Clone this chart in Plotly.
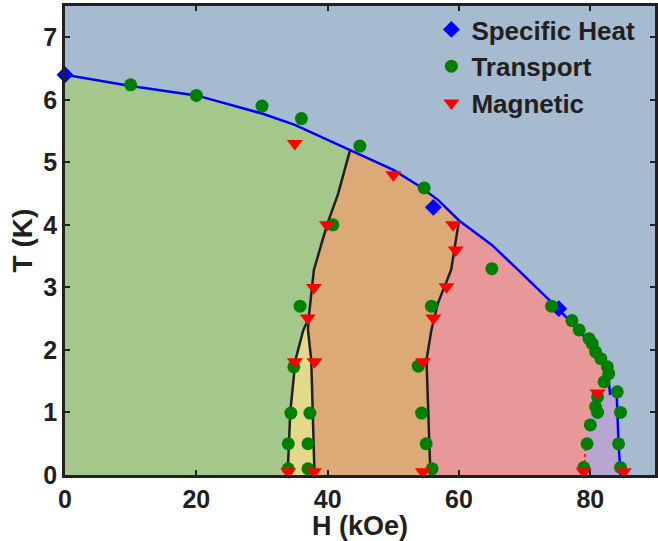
import plotly.graph_objects as go

# ---------------- data ----------------
# Upper critical field line (blue)
hc2_H = [0, 10, 20, 30, 35, 40, 43.4, 50, 53.8, 56.8, 60.0, 65, 69, 75.1, 77, 79, 80.8, 82.3, 82.8, 83.0, 84.0, 84.3, 84.6]
hc2_T = [6.4, 6.22, 6.07, 5.78, 5.6, 5.36, 5.19, 4.88, 4.63, 4.4, 4.07, 3.68, 3.28, 2.66, 2.45, 2.22, 1.97, 1.7, 1.5, 1.3, 1.35, 0.5, 0.0]

# Left boundary (green/orange), upper part
lb_H = [43.4, 41.6, 39.9, 37.9, 37.1]
lb_T = [5.19, 4.5, 4.0, 3.28, 2.5]
# Yellow pocket: left and right branches
yl_H = [37.1, 36.3, 35.1, 34.3, 33.9]
yl_T = [2.5, 2.32, 1.84, 1.0, 0.0]
yr_H = [37.1, 37.0, 37.5, 37.7, 38.0]
yr_T = [2.5, 2.32, 1.84, 1.0, 0.0]
# Middle boundary (orange/pink)
mb_H = [60.0, 58.8, 56.8, 55.8, 55.05, 55.3, 55.65]
mb_T = [4.07, 3.28, 2.75, 2.32, 1.84, 1.0, 0.0]
# Purple pocket left edge
pl_H = [79.0, 79.3, 79.9, 80.5, 81.5, 83.0]
pl_T = [0.0, 0.5, 0.9, 1.2, 1.35, 1.3]

# Measured points
heat_H = [0, 56.1, 75.2]
heat_T = [6.4, 4.28, 2.66]

trans_H = [10.0, 20.0, 30.0, 36.0, 44.9, 54.7, 40.8, 65.0, 35.8, 34.85, 34.4, 34.0, 34.0,
           37.3, 37.0, 37.0, 55.8, 53.8, 54.3, 55.0, 55.9, 74.1, 77.2, 78.3, 79.8, 80.3,
           80.8, 81.6, 82.6, 82.8, 82.1, 84.1, 81.1, 80.8, 81.1, 84.6, 80.0, 79.5, 84.3, 79.0, 84.6]
trans_T = [6.24, 6.07, 5.9, 5.7, 5.26, 4.59, 4.0, 3.3, 2.7, 1.73, 0.99, 0.5, 0.1,
           0.99, 0.5, 0.1, 2.7, 1.74, 0.99, 0.5, 0.1, 2.7, 2.47, 2.32, 2.18, 2.1,
           1.97, 1.86, 1.73, 1.62, 1.49, 1.33, 1.25, 1.09, 1.0, 1.0, 0.8, 0.5, 0.5, 0.12, 0.12]

mag_H = [35.0, 39.9, 50.0, 59.1, 59.5, 37.9, 36.97, 35.0, 38.0, 34.0, 37.9, 58.1, 56.1, 54.5, 54.5, 79.0, 85.1, 81.1]
mag_T = [5.3, 4.0, 4.8, 4.0, 3.6, 3.0, 2.51, 1.81, 1.81, 0.05, 0.05, 3.01, 2.51, 1.81, 0.05, 0.05, 0.05, 1.31]

# ---------------- styles ----------------
C_BG = "#a6bad0"
C_GREEN = "#a4c88c"
C_ORANGE = "#dcaa77"
C_YELLOW = "#e2d98a"
C_PINK = "#e89898"
C_PURPLE = "#b9a5d2"
DARK = "#231f20"
FONT = "Liberation Sans, Arial, Helvetica, sans-serif"

i43 = hc2_H.index(43.4)
i60 = hc2_H.index(60.0)
i83 = hc2_H.index(83.0)

# polygons built from the arrays above
green_x = hc2_H + [hc2_H[-1], 0]
green_y = hc2_T + [0, 0]

orange_x = hc2_H[i43:i60 + 1] + mb_H + yr_H[::-1] + lb_H[::-1]
orange_y = hc2_T[i43:i60 + 1] + mb_T + yr_T[::-1] + lb_T[::-1]

yellow_x = yl_H + yr_H[::-1]
yellow_y = yl_T + yr_T[::-1]

pink_x = mb_H + pl_H + hc2_H[i60:i83 + 1][::-1]
pink_y = mb_T + pl_T + hc2_T[i60:i83 + 1][::-1]

purple_x = pl_H + hc2_H[i83 + 1:]
purple_y = pl_T + hc2_T[i83 + 1:]

fig = go.Figure()

def region(x, y, color):
    fig.add_trace(go.Scatter(x=x, y=y, mode="lines", fill="toself", fillcolor=color,
                             line=dict(width=0.5, color=color), showlegend=False,
                             hoverinfo="skip"))

region(green_x, green_y, C_GREEN)
region(orange_x, orange_y, C_ORANGE)
region(yellow_x, yellow_y, C_YELLOW)
region(pink_x, pink_y, C_PINK)
region(purple_x, purple_y, C_PURPLE)

def line(x, y, color, width=2.5, dash="solid"):
    fig.add_trace(go.Scatter(x=x, y=y, mode="lines", line=dict(color=color, width=width, dash=dash),
                             showlegend=False, hoverinfo="skip"))

line(lb_H + yl_H[1:], lb_T + yl_T[1:], DARK)
line(yr_H, yr_T, DARK)
line(mb_H, mb_T, DARK)
line(pl_H[:2], pl_T[:2], "#ff0000", width=1.5, dash="dot")
line(hc2_H, hc2_T, "#0000ff")

fig.add_trace(go.Scatter(x=heat_H, y=heat_T, mode="markers", name="Specific Heat",
                         marker=dict(symbol="diamond", size=13, color="#0000ff", line=dict(width=0)),
                         cliponaxis=False))
fig.add_trace(go.Scatter(x=trans_H, y=trans_T, mode="markers", name="Transport",
                         marker=dict(symbol="circle", size=13, color="#008000", line=dict(width=0)),
                         cliponaxis=False))
fig.add_trace(go.Scatter(x=mag_H, y=mag_T, mode="markers", name="Magnetic",
                         marker=dict(symbol="triangle-down", size=14, color="#ff0000", line=dict(width=0)),
                         cliponaxis=False))

axis_common = dict(showline=True, linewidth=2.5, linecolor=DARK, mirror="ticks",
                   ticks="inside", ticklen=5, tickwidth=1.5, tickcolor=DARK,
                   showgrid=False, zeroline=False,
                   tickfont=dict(family=FONT, size=25, color=DARK, weight="bold"))

fig.update_layout(
    width=658, height=541,
    margin=dict(l=65, r=0, t=6, b=66),
    paper_bgcolor="white", plot_bgcolor=C_BG,
    xaxis=dict(range=[0, 89.85], tickvals=[0, 20, 40, 60, 80],
               title=dict(text="H (kOe)", font=dict(family=FONT, size=27, color=DARK, weight="bold"),
                          standoff=0),
               **axis_common),
    yaxis=dict(range=[0, 7.5], tickvals=[0, 1, 2, 3, 4, 5, 6, 7],
               title=dict(text="T (K)", font=dict(family=FONT, size=28, color=DARK, weight="bold"),
                          standoff=3),
               **axis_common),
    legend=dict(x=0.621, y=1.0, xanchor="left", yanchor="top",
                bgcolor="rgba(0,0,0,0)", borderwidth=0,
                font=dict(family=FONT, size=26, color=DARK, weight="bold"),
                tracegroupgap=0),
    showlegend=True,
)

fig.write_html("out.html")
